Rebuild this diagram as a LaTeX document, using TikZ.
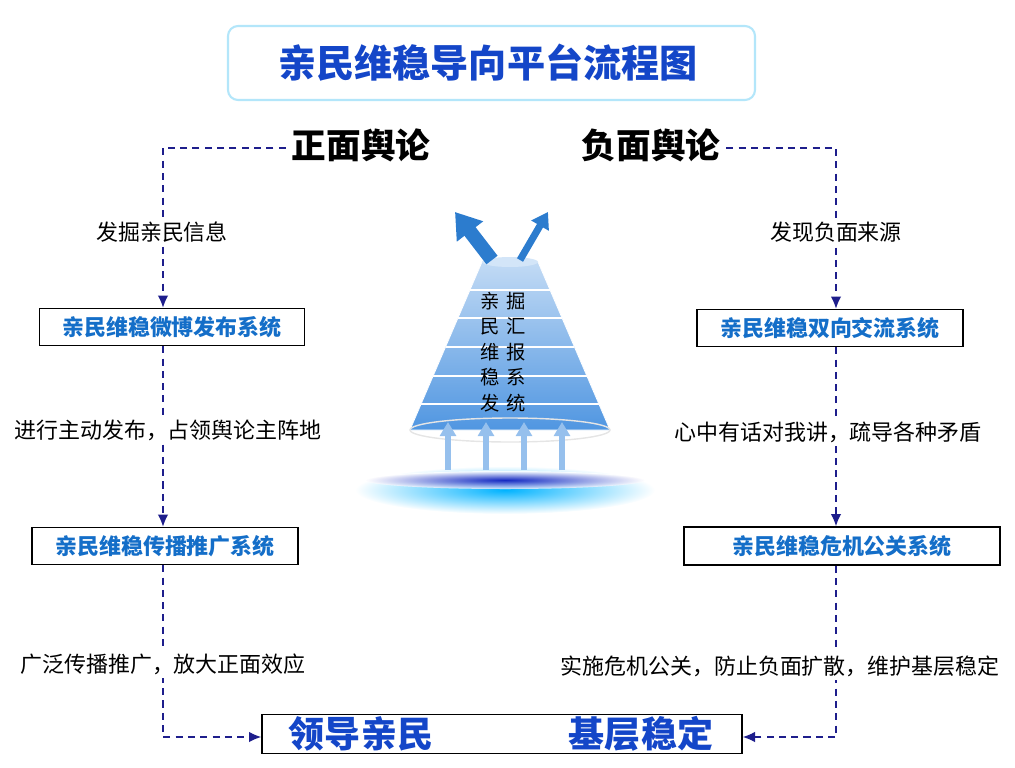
\documentclass[tikz,border=0pt]{standalone}
\usepackage{fontspec}
\setmainfont{Noto Sans CJK SC}
\usetikzlibrary{arrows.meta,shadings}
\definecolor{navy}{RGB}{30,30,140}
\definecolor{titleblue}{RGB}{20,70,200}
\definecolor{boxblue}{RGB}{20,110,200}
\definecolor{coneblue}{RGB}{80,150,225}
\tikzset{
  flowline/.style = {draw = navy, thick, dash pattern = on 4pt off 3pt},
  flowarrow/.style = {flowline, -{Latex[length=7pt,width=6pt]}},
  sysbox/.style = {draw, thick, font = \fontsize{12.5}{14}\selectfont\bfseries, text = boxblue},
  steplabel/.style = {fill = white, font = \fontsize{12.5}{15}\selectfont, inner sep = 2pt}
}
\begin{document}
\begin{tikzpicture}[x=0.02cm, y=-0.02cm]
    \useasboundingbox (0,0) rectangle (1015,768);
    %% title
    \draw [draw = cyan!30, very thick, rounded corners = 2mm, fill = white]
    (228,26) rectangle (755,100);
    \node (title) [font = \fontsize{21.7}{24}\selectfont\bfseries, text = titleblue]
    at (488,63) {亲民维稳导向平台流程图};
    \node (pos) [font = \fontsize{19.7}{22}\selectfont\bfseries] at (361,145) {正面舆论};
    \node (neg) [font = \fontsize{19.7}{22}\selectfont\bfseries] at (651,145) {负面舆论};
    %% systems
    \node (weibo) [sysbox, minimum width = 265*0.02cm, minimum height = 37*0.02cm]
    at (172,327) {亲民维稳微博发布系统};
    \node (spread) [sysbox, minimum width = 266*0.02cm, minimum height = 37*0.02cm]
    at (165,546) {亲民维稳传播推广系统};
    \node (talk) [sysbox, minimum width = 266*0.02cm, minimum height = 37*0.02cm]
    at (830,328) {亲民维稳双向交流系统};
    \node (crisis) [sysbox, minimum width = 316*0.02cm, minimum height = 38*0.02cm]
    at (842,546) {亲民维稳危机公关系统};
    \node (goal) [draw, thick, minimum width = 480*0.02cm, minimum height = 39*0.02cm]
    at (502,734) {};
    \node (lead) [font = \fontsize{20.5}{22}\selectfont\bfseries, text = titleblue]
    at (361,734) {领导亲民};
    \node (stable) [font = \fontsize{20.5}{22}\selectfont\bfseries, text = titleblue]
    at (641,734) {基层稳定};
    %% connectors
    \coordinate (lt) at (163,148);
    \coordinate (rt) at (836,148);
    \coordinate (lb) at (163,737);
    \coordinate (rb) at (836,737);
    \draw [flowarrow] (pos.west |- lt) -- (lt) -- (lt |- weibo.north);
    \draw [flowarrow] (neg.east |- rt) -- (rt) -- (rt |- talk.north);
    \draw [flowarrow] (lt |- weibo.south) -- (lt |- spread.north);
    \draw [flowarrow] (rt |- talk.south) -- (rt |- crisis.north);
    \draw [flowarrow] (lt |- spread.south) -- (lb) -- (goal.west |- lb);
    \draw [flowarrow] (rt |- crisis.south) -- (rb) -- (goal.east |- rb);
    \node (s1) [steplabel] at (162,232) {发掘亲民信息};
    \node (s2) [steplabel] at (168,430) {进行主动发布，占领舆论主阵地};
    \node (s3) [steplabel] at (163,664) {广泛传播推广，放大正面效应};
    \node (s4) [steplabel] at (836,232) {发现负面来源};
    \node (s5) [steplabel] at (828,432) {心中有话对我讲，疏导各种矛盾};
    \node (s6) [steplabel] at (780,666) {实施危机公关，防止负面扩散，维护基层稳定};
    %% water
    \shade [inner color = cyan!70!blue, outer color = white]
    (505,490) ellipse (150 and 24);
    \shade [inner color = blue!70!black, outer color = white, opacity = 0.8]
    (505,480) ellipse (140 and 9);
    %% cone
    \shade [top color = coneblue!35, bottom color = coneblue, draw = white]
    (482,262) -- (538,262) -- (610,430) -- (410,430) -- cycle;
    \foreach \y in {290,318,347,376,404} {
        \draw [white, thick] ({510-28-72*(\y-262)/168},\y) -- ({510+28+72*(\y-262)/168},\y);
    }
    \draw [white!80!gray, thick] (510,430) ellipse (100 and 12);
    \fill [coneblue!25] (510,262) ellipse (28 and 5);
    \node (conetext) [font = \fontsize{11}{14.5}\selectfont, align = center]
    at (503,352) {亲\,\,掘\\民\,\,汇\\维\,\,报\\稳\,\,系\\发\,\,统};
    \foreach \x in {448,486,524,562} {
        \draw [-{Triangle[length=8pt,width=9pt]}, line width = 3pt, coneblue!60]
        (\x,470) -- (\x,422);
    }
    \draw [-{Triangle[length=14pt,width=18pt]}, line width = 8pt, boxblue!90]
    (492,260) -- (455,212);
    \draw [-{Triangle[length=9pt,width=11pt]}, line width = 4pt, boxblue!90]
    (520,260) -- (548,212);
\end{tikzpicture}
\end{document}
